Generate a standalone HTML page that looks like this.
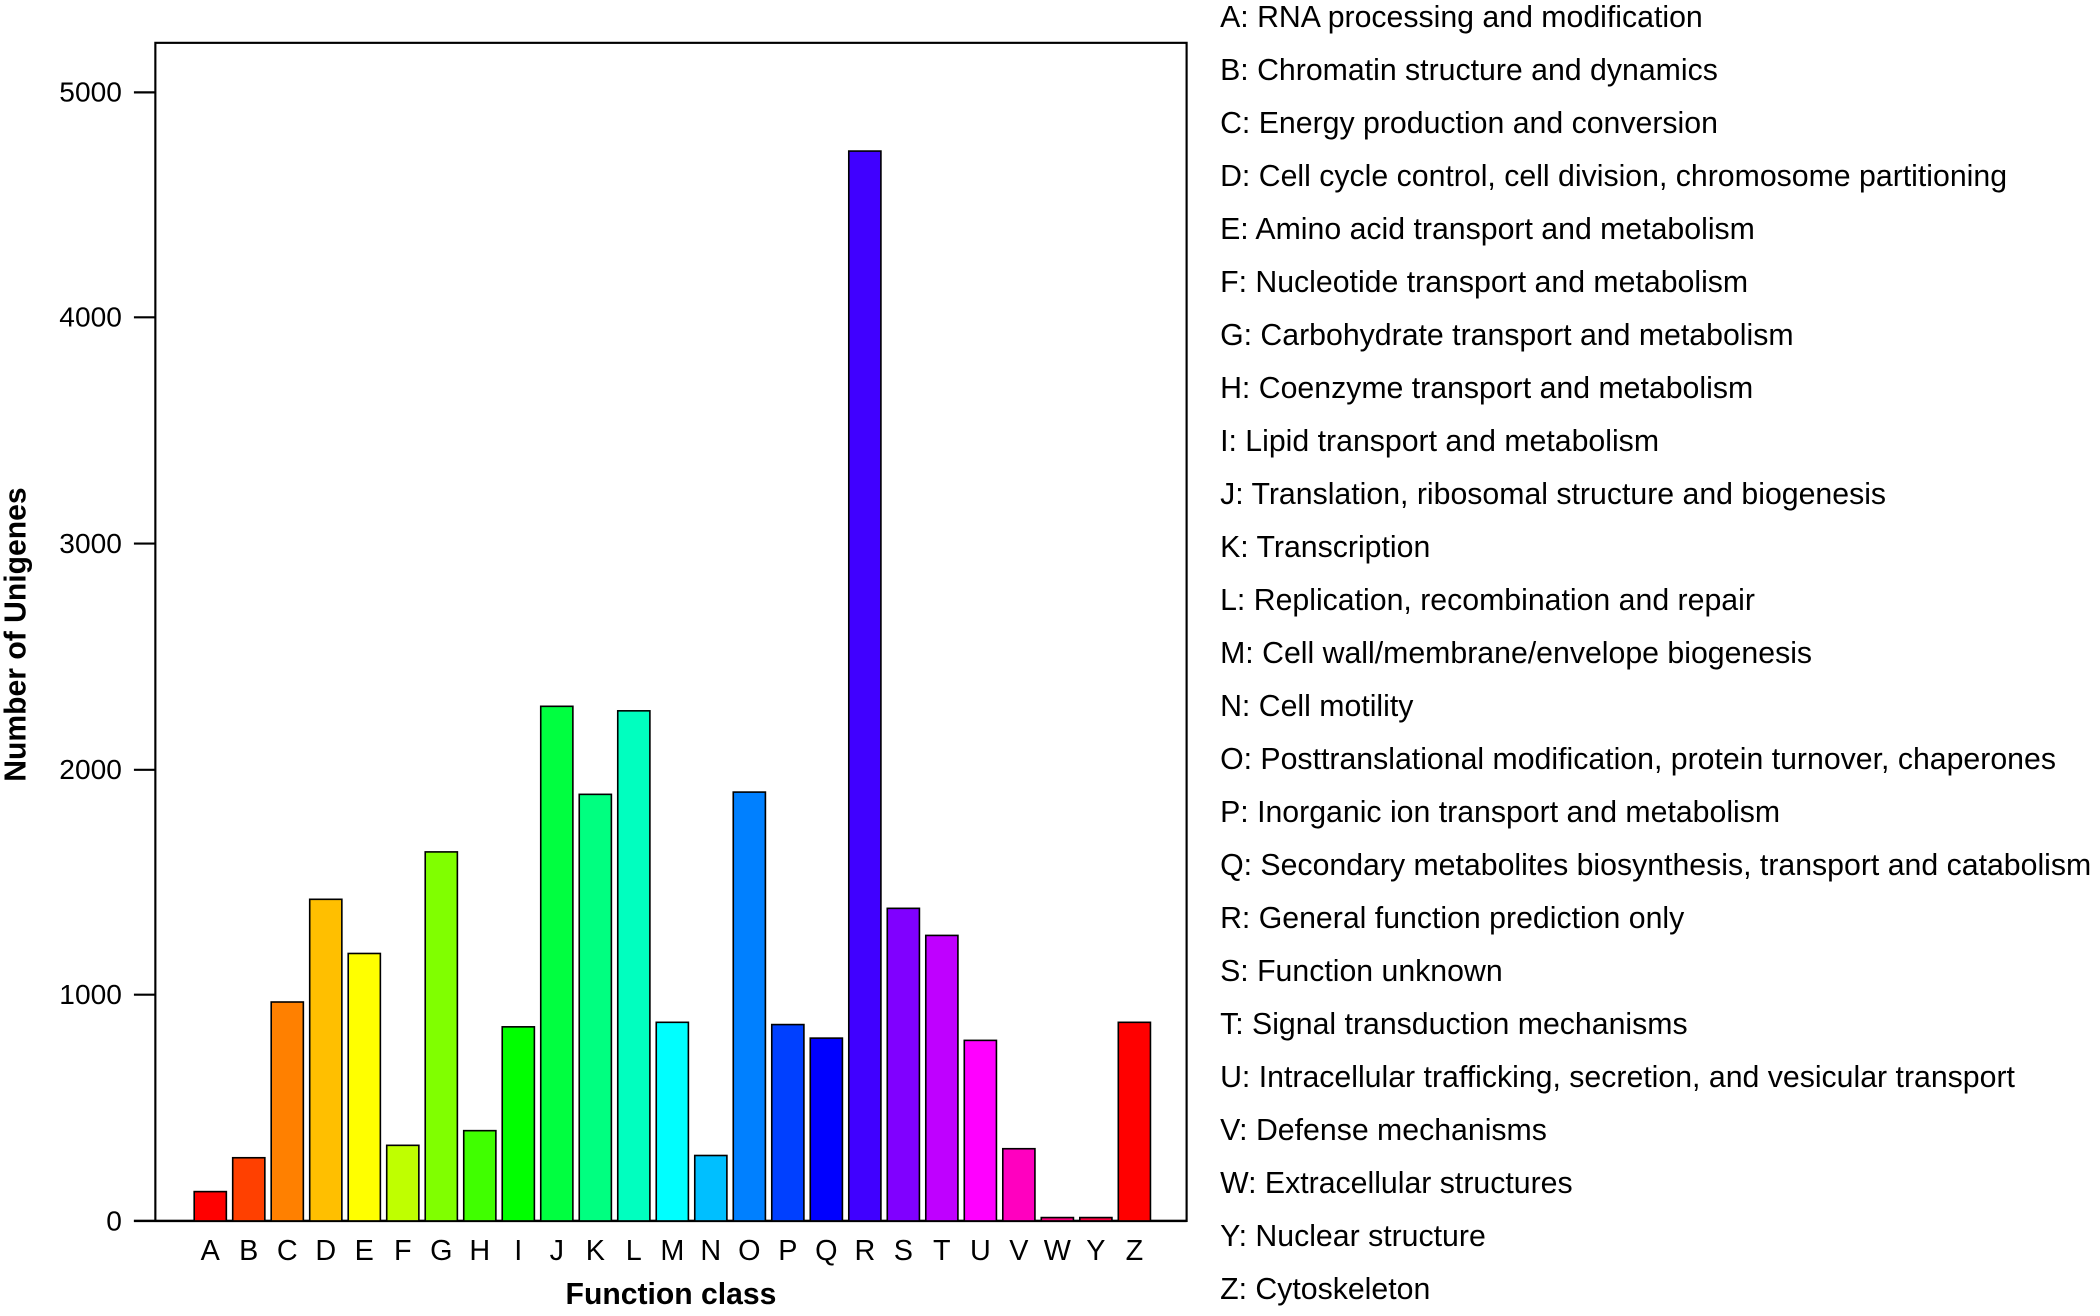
<!DOCTYPE html>
<html><head><style>html,body{margin:0;padding:0;background:#fff}svg{display:block}</style></head>
<body>
<svg width="2100" height="1316" viewBox="0 0 1568 983" preserveAspectRatio="none" xmlns="http://www.w3.org/2000/svg" font-family="Liberation Sans, Arial, sans-serif">
<rect x="116" y="32" width="770" height="880" fill="none" stroke="#000" stroke-width="1.6"/>
<line x1="100" y1="912" x2="886" y2="912" stroke="#000" stroke-width="1.8"/>
<g stroke="#000" stroke-width="1.6">
<line x1="100" y1="912" x2="116" y2="912"/><line x1="100" y1="743" x2="116" y2="743"/><line x1="100" y1="575" x2="116" y2="575"/><line x1="100" y1="406" x2="116" y2="406"/><line x1="100" y1="237" x2="116" y2="237"/><line x1="100" y1="69" x2="116" y2="69"/>
</g>
<g font-size="21" text-anchor="end">
<text x="91" y="919">0</text><text x="91" y="750">1000</text><text x="91" y="582">2000</text><text x="91" y="413">3000</text><text x="91" y="244">4000</text><text x="91" y="76">5000</text>
</g>
<text transform="translate(19,474) rotate(-90)" font-size="22.5" font-weight="bold" text-anchor="middle">Number of Unigenes</text>
<text x="501" y="974" font-size="22.5" font-weight="bold" text-anchor="middle">Function class</text>
<g id="bars" stroke="#000" stroke-width="1.2"></g>
<g id="xl" font-size="21.5" text-anchor="middle"></g>
<g id="leg" font-size="22.6"></g>
<script>
var L="ABCDEFGHIJKLMNOPQRSTUVWYZ".split("");
var V=[130,280,970,1425,1185,335,1635,400,860,2280,1890,2260,880,290,1900,870,810,4740,1385,1265,800,320,15,15,880];
var C=["#ff0000","#ff4000","#ff8000","#ffbf00","#ffff00","#bfff00","#80ff00","#40ff00","#00ff00","#00ff40","#00ff80","#00ffbf","#00ffff","#00bfff","#0080ff","#0040ff","#0000ff","#4000ff","#8000ff","#bf00ff","#ff00ff","#ff00bf","#ff0080","#ff0040","#ff0000"];
var ns="http://www.w3.org/2000/svg",b=document.getElementById("bars"),xl=document.getElementById("xl");
for(var i=0;i<25;i++){var cx=157+i*28.75,h=V[i]*0.1686;
var r=document.createElementNS(ns,"rect");r.setAttribute("x",cx-12);r.setAttribute("y",912-h);r.setAttribute("width",24);r.setAttribute("height",h);r.setAttribute("fill",C[i]);b.appendChild(r);
var t=document.createElementNS(ns,"text");t.setAttribute("x",cx);t.setAttribute("y",941);t.textContent=L[i];xl.appendChild(t);}
var T=["A: RNA processing and modification","B: Chromatin structure and dynamics","C: Energy production and conversion","D: Cell cycle control, cell division, chromosome partitioning","E: Amino acid transport and metabolism","F: Nucleotide transport and metabolism","G: Carbohydrate transport and metabolism","H: Coenzyme transport and metabolism","I: Lipid transport and metabolism","J: Translation, ribosomal structure and biogenesis","K: Transcription","L: Replication, recombination and repair","M: Cell wall/membrane/envelope biogenesis","N: Cell motility","O: Posttranslational modification, protein turnover, chaperones","P: Inorganic ion transport and metabolism","Q: Secondary metabolites biosynthesis, transport and catabolism","R: General function prediction only","S: Function unknown","T: Signal transduction mechanisms","U: Intracellular trafficking, secretion, and vesicular transport","V: Defense mechanisms","W: Extracellular structures","Y: Nuclear structure","Z: Cytoskeleton"];
var lg=document.getElementById("leg");
for(var j=0;j<25;j++){var t=document.createElementNS(ns,"text");t.setAttribute("x",911);t.setAttribute("y",20+j*39.6);t.textContent=T[j];lg.appendChild(t);}
</script>
</svg>
</body></html>
